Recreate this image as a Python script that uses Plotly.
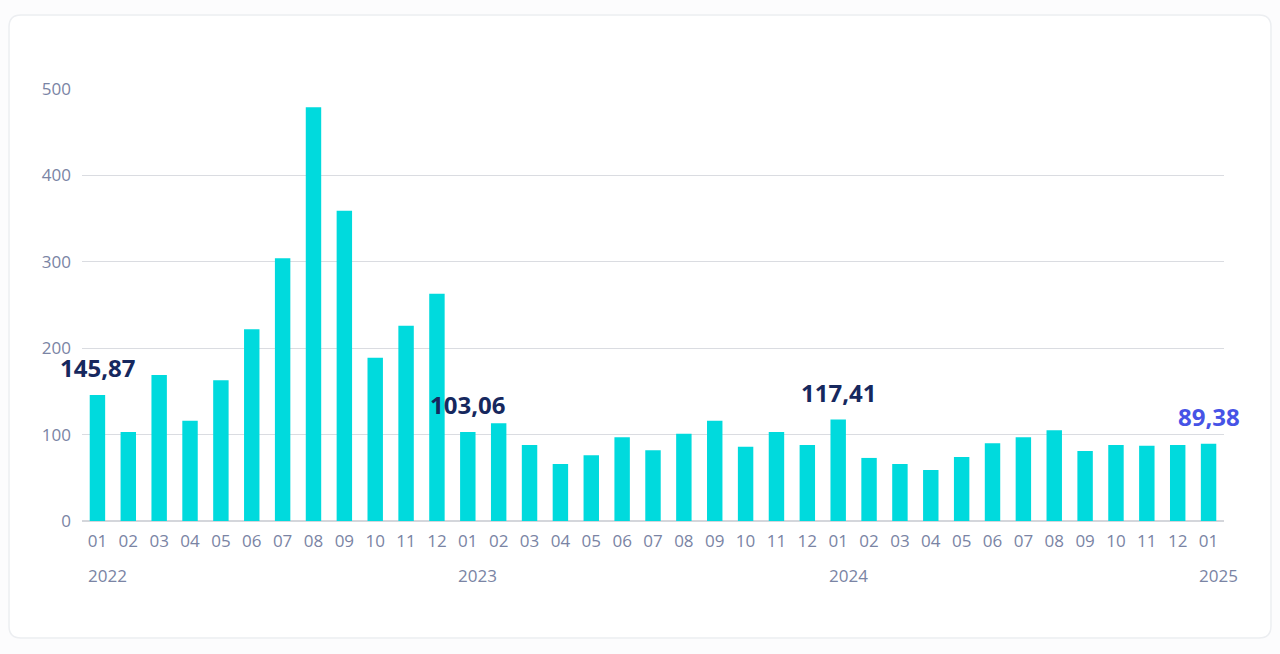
import plotly.graph_objects as go

months = ["01","02","03","04","05","06","07","08","09","10","11","12"] * 3 + ["01"]
years = ["2022"] * 12 + ["2023"] * 12 + ["2024"] * 12 + ["2025"]
values = [145.87, 103, 169, 116, 163, 222, 304, 479, 359, 189, 226, 263,
          103.06, 113, 88, 66, 76, 97, 82, 101, 116, 86, 103, 88,
          117.41, 73, 66, 59, 74, 90, 97, 105, 81, 88, 87, 88,
          89.38]
year_labels = ["2022", "2023", "2024", "2025"]
year_label_idx = [0, 12, 24, 36]
highlight_idx = [0, 12, 24, 36]
highlight_text = ["145,87", "103,06", "117,41", "89,38"]
highlight_color = ["#16285e", "#16285e", "#16285e", "#4653e6"]
y_ticks = [0, 100, 200, 300, 400, 500]

xcats = [f"{y}-{m}" for y, m in zip(years, months)]

fig = go.Figure()
fig.add_trace(go.Bar(x=xcats, y=values, marker=dict(color="#00dadd", line=dict(width=0)),
                     hoverinfo="skip"))

font_family = "Open Sans"
anns = []
for i, t, c in zip(highlight_idx, highlight_text, highlight_color):
    anns.append(dict(x=xcats[i], y=values[i], text=f"<b>{t}</b>", showarrow=False,
                     xref="x", yref="y", yanchor="bottom", yshift=10, borderpad=0,
                     font=dict(size=24, color=c, family=font_family)))
for i, t in zip(year_label_idx, year_labels):
    anns.append(dict(x=i - 0.37, y=-0.125, text=t, showarrow=False, xref="x", yref="paper",
                     xanchor="left", yanchor="middle",
                     font=dict(size=17, color="#7a84a4", family=font_family)))

# card with rounded corners (pixel -> paper coordinates)
L, R, T, B = 82, 1224, 89, 521
def px(x):
    return (x - L) / (R - L)
def py(y):
    return (B - y) / (B - T)
x0, x1, y0, y1, r = 9, 1271, 15, 638, 12
path = (f"M {px(x0+r)},{py(y0)} L {px(x1-r)},{py(y0)} Q {px(x1)},{py(y0)} {px(x1)},{py(y0+r)} "
        f"L {px(x1)},{py(y1-r)} Q {px(x1)},{py(y1)} {px(x1-r)},{py(y1)} "
        f"L {px(x0+r)},{py(y1)} Q {px(x0)},{py(y1)} {px(x0)},{py(y1-r)} "
        f"L {px(x0)},{py(y0+r)} Q {px(x0)},{py(y0)} {px(x0+r)},{py(y0)} Z")

fig.update_layout(
    width=1280, height=654,
    margin=dict(l=L, r=1280 - R, t=T, b=654 - B),
    paper_bgcolor="#fcfcfd", plot_bgcolor="rgba(0,0,0,0)",
    bargap=0.5, showlegend=False,
    font=dict(family=font_family, color="#7a84a4", size=17),
    xaxis=dict(type="category", tickmode="array", tickvals=xcats, ticktext=months,
               showgrid=False, showline=False, ticks="", tickfont=dict(size=17, color="#7a84a4"),
               ticklabelstandoff=8, range=[-0.5, 36.5], fixedrange=True),
    yaxis=dict(range=[0, 500], tickvals=y_ticks, showgrid=True, gridcolor="#dadce1", gridwidth=1,
               zeroline=True, zerolinecolor="#d4d6db", zerolinewidth=1.5,
               ticks="", ticklabelstandoff=10, tickfont=dict(size=17, color="#7a84a4"),
               fixedrange=True),
    annotations=anns,
    shapes=[dict(type="path", path=path, xref="paper", yref="paper", layer="below",
                 fillcolor="#ffffff", line=dict(color="#eceef1", width=1.5))],
)

fig.write_html("out.html", config={"displayModeBar": False},
               post_script="document.body.style.margin='0';document.body.style.overflow='hidden';")
